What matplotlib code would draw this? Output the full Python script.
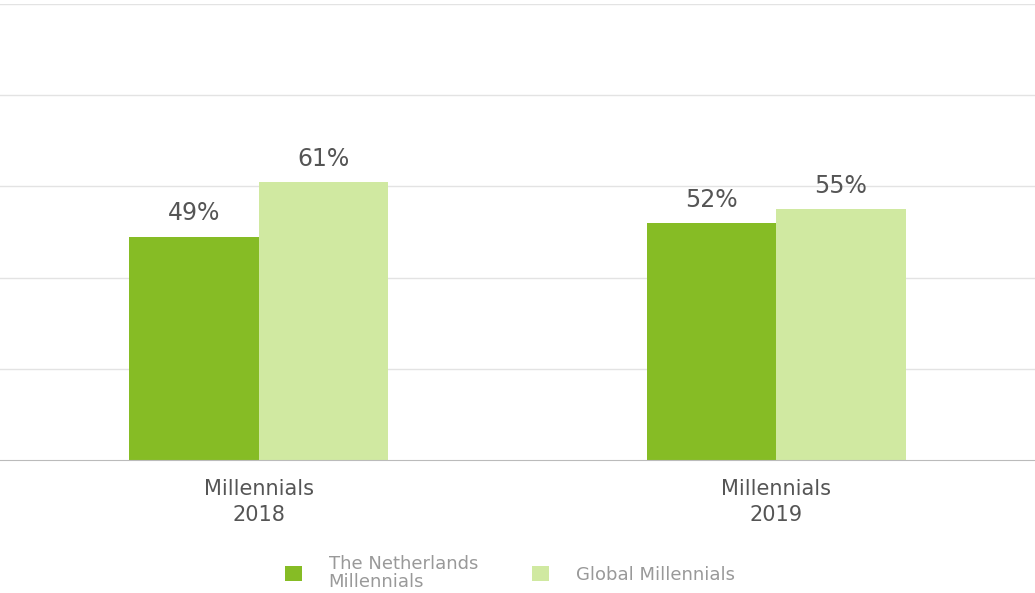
import matplotlib.pyplot as plt
import numpy as np
from matplotlib.patches import Patch

categories = ['Millennials\n2018', 'Millennials\n2019']
series_names = ['The Netherlands\nMillennials', 'Global Millennials']
netherlands = [49, 52]
global_vals = [61, 55]
colors = ['#86bc25', '#d0e9a1']

fig = plt.figure(figsize=(10.35, 5.93), dpi=100)
ax = fig.add_axes([0, (593 - 460) / 593, 1, (460 - 4) / 593])

x = np.arange(len(categories))
width = 0.25
b1 = ax.bar(x - width / 2, netherlands, width, color=colors[0], zorder=3)
b2 = ax.bar(x + width / 2, global_vals, width, color=colors[1], zorder=3)

for bars in (b1, b2):
    ax.bar_label(bars, labels=[f'{v}%' for v in bars.datavalues],
                 padding=8, fontsize=17, color='#555555')

ax.set_xlim(-0.5, 1.5)
ax.set_ylim(0, 100)
ax.set_yticks([20, 40, 60, 80, 100])
ax.yaxis.grid(True, color='#e3e3e3', linewidth=1)
ax.tick_params(axis='y', length=0, labelleft=False)
ax.set_xticks(x)
ax.set_xticklabels(categories, fontsize=15, color='#555555', linespacing=1.35)
ax.tick_params(axis='x', length=0, pad=14)
for side in ('top', 'left', 'right'):
    ax.spines[side].set_visible(False)
ax.spines['bottom'].set_color('#bbbbbb')
ax.spines['bottom'].set_zorder(4)

handles = [Patch(facecolor=c, edgecolor='none') for c in colors]
leg = fig.legend(handles, series_names, loc='center', ncol=2,
                 bbox_to_anchor=(510 / 1035, 20 / 593), frameon=False,
                 fontsize=13, handlelength=0.9, handleheight=0.9,
                 handletextpad=1.5, columnspacing=3.0, labelspacing=0)
for t in leg.get_texts():
    t.set_color('#999999')
    t.set_linespacing(1.0)

fig.savefig('out.png', dpi=100)
